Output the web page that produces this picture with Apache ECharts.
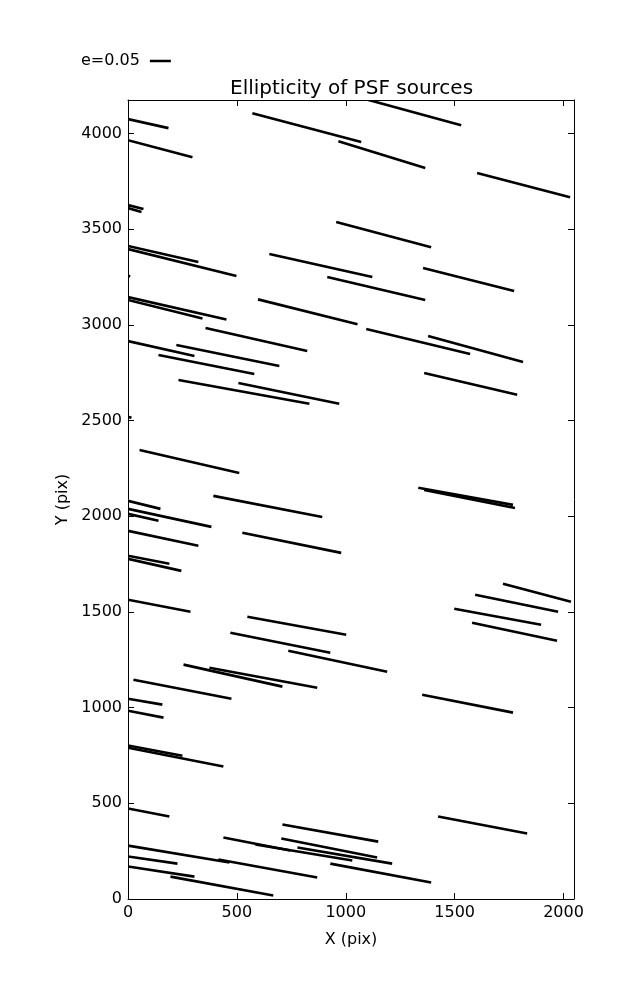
<!DOCTYPE html>
<html>
<head>
<meta charset="utf-8">
<script src="https://cdn.jsdelivr.net/npm/echarts@6/dist/echarts.min.js"></script>
<style>
html,body{margin:0;padding:0;background:#fff;}
#chart{width:637px;height:1000px;}
</style>
</head>
<body>
<div id="chart"></div>
<script>
// Segment endpoints (data units, pixels of the detector)
var xStart = [0, 0, 0, 0, 0, 0, 0, 649, 1076, 571, 966, 956, 1355, 915, 1603,
  0, 0, 597, 356, 0, 222, 140, 232, 507, 0, 53, 1094, 1378, 1360,
  392, 1333, 1360, 0, 0, 0, 0, 525, 0, 0, 0, 548, 470, 736, 255, 374, 25,
  1351, 1722, 1594, 1498, 1580, 0, 0, 0, 0, 0, 438, 585, 0, 415, 0, 0, 195,
  709, 704, 778, 929, 1424];
var yStart = [4076, 3966, 3627, 3611, 3413, 3397, 3258, 3371, 4185, 4107, 3961, 3538, 3298, 3251, 3794,
  3146, 3131, 3134, 2984, 2916, 2896, 2843, 2713, 2697, 2520, 2347, 2979, 2943, 2749,
  2107, 2149, 2138, 2081, 2039, 2013, 1924, 1914, 1794, 1778, 1564, 1475, 1392, 1298, 1225, 1209, 1146,
  1068, 1648, 1590, 1517, 1444, 1047, 984, 802, 791, 473, 321, 285, 279, 206, 222, 170, 117,
  389, 316, 269, 185, 431];
var xEnd = [186, 296, 71, 62, 323, 498, 10, 1122, 1530, 1071, 1365, 1392, 1773, 1365, 2030,
  452, 342, 1054, 823, 305, 695, 580, 833, 970, 16, 511, 1571, 1814, 1787,
  892, 1768, 1777, 149, 383, 140, 323, 979, 190, 245, 287, 1002, 929, 1190, 709, 869, 475,
  1768, 2034, 1975, 1897, 1970, 158, 163, 250, 438, 190, 745, 1030, 466, 869, 227, 305, 667,
  1149, 1144, 1213, 1392, 1833];
var yEnd = [4029, 3877, 3606, 3590, 3329, 3256, 3254, 3251, 4044, 3956, 3820, 3407, 3178, 3131, 3668,
  3029, 3034, 3004, 2864, 2838, 2786, 2744, 2588, 2588, 2515, 2227, 2849, 2807, 2635,
  1997, 2060, 2044, 2039, 1945, 1977, 1846, 1809, 1752, 1715, 1501, 1381, 1287, 1188, 1110, 1104, 1047,
  974, 1554, 1501, 1433, 1350, 1016, 948, 749, 692, 431, 253, 201, 191, 112, 185, 117, 18,
  300, 217, 185, 86, 342];
var xTicks = [0, 500, 1000, 1500, 2000];
var yTicks = [0, 500, 1000, 1500, 2000, 2500, 3000, 3500, 4000];
var keyLabel = 'e=0.05';

var segData = xStart.map(function (x, i) { return [x, yStart[i], xEnd[i], yEnd[i]]; });

var FONT = 'DejaVu Sans';
var chart = echarts.init(document.getElementById('chart'), null, {renderer: 'canvas'});

function tickFmt(list) {
  return function (v) { return list.indexOf(v) >= 0 ? String(v) : ''; };
}

function axisCommon(extra) {
  var base = {
    type: 'value',
    splitLine: {show: false},
    axisLine: {show: true, onZero: false, lineStyle: {color: '#000', width: 1}},
    axisTick: {show: true, inside: true, length: 6, lineStyle: {color: '#000', width: 1}},
    axisLabel: {show: false}
  };
  for (var k in extra) base[k] = extra[k];
  return base;
}

var option = {
  animation: false,
  backgroundColor: '#fff',
  title: {
    text: 'Ellipticity of PSF sources',
    left: 230, top: 79, padding: 0,
    textStyle: {fontFamily: FONT, fontSize: 20, fontWeight: 'normal', color: '#000'}
  },
  legend: {
    data: [{name: keyLabel, icon: 'rect'}],
    left: 81, top: 53, padding: 0,
    align: 'right',
    itemWidth: 21, itemHeight: 2.5,
    textStyle: {fontFamily: FONT, fontSize: 16, color: '#000', padding: [0, 5, 0, 0]},
    selectedMode: false
  },
  grid: {left: 128, top: 100, width: 446, height: 799},
  xAxis: [
    axisCommon({min: 0, max: 2048, interval: 500, position: 'bottom',
      name: 'X (pix)', nameLocation: 'middle', nameGap: 33,
      nameTextStyle: {fontFamily: FONT, fontSize: 16, color: '#000'},
      axisLabel: {show: true, color: '#000', fontFamily: FONT, fontSize: 16, margin: 6,
        showMaxLabel: false, formatter: tickFmt(xTicks)}}),
    axisCommon({min: 0, max: 2048, interval: 500, position: 'top'})
  ],
  yAxis: [
    axisCommon({min: 0, max: 4176, interval: 500, position: 'left',
      name: 'Y (pix)', nameLocation: 'middle', nameGap: 51,
      nameTextStyle: {fontFamily: FONT, fontSize: 16, color: '#000'},
      axisLabel: {show: true, color: '#000', fontFamily: FONT, fontSize: 16, margin: 6,
        showMaxLabel: false, formatter: tickFmt(yTicks)}}),
    axisCommon({min: 0, max: 4176, interval: 500, position: 'right'})
  ],
  series: [{
    name: keyLabel,
    type: 'custom',
    clip: true,
    xAxisIndex: 0, yAxisIndex: 0,
    itemStyle: {color: '#000'},
    encode: {x: [0, 2], y: [1, 3]},
    data: segData,
    renderItem: function (params, api) {
      var p1 = api.coord([api.value(0), api.value(1)]);
      var p2 = api.coord([api.value(2), api.value(3)]);
      return {
        type: 'line',
        shape: {x1: p1[0], y1: p1[1], x2: p2[0], y2: p2[1]},
        style: {stroke: '#000', lineWidth: 2.6, lineCap: 'butt'}
      };
    }
  }]
};
chart.setOption(option);
</script>
</body>
</html>
